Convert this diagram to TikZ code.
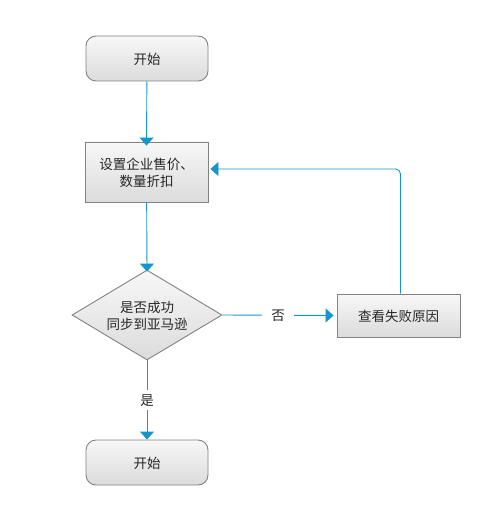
\documentclass[tikz,border=0pt]{standalone}
\usepackage{fontspec}
\setmainfont{Noto Sans CJK SC}
\usetikzlibrary{shapes.geometric,arrows.meta}
\definecolor{flowblue}{RGB}{20,150,205}
\definecolor{boxline}{RGB}{130,130,130}

\begin{document}
\begin{tikzpicture}[
            x = 1pt, y = -1pt,
            every node/.style={text depth=0pt, font=\fontsize{13.5}{17}\selectfont, align=center, text=black!85},
            box/.style={draw=boxline, line width=.9pt, top color=white!97!black, bottom color=white!86!black},
            terminal/.style={box, rounded corners=10pt, minimum width=122pt, minimum height=45pt},
            process/.style={box, minimum width=123pt, minimum height=60pt},
            decision/.style={box, diamond, aspect=1.667, minimum width=150pt, minimum height=90pt, inner sep=0pt},
            line/.style={draw=flowblue, line width=.9pt, -{Triangle[width=14pt,length=8pt]}},
            label/.style={fill=white, inner xsep=9pt, inner ysep=5pt},
            ]
        \useasboundingbox (0, 0) rectangle (497, 510);

        \node[terminal] (0) at (147, 58.5) {开始};
        \node[process, minimum height=60pt] (1) at (146.5, 172) {设置企业售价、\\数量折扣};
        \node[decision] (2) at (147, 315) {是否成功\\同步到亚马逊};
        \node[process, minimum height=43pt] (3) at (398.5, 315.5) {查看失败原因};
        \node[terminal] (4) at (147, 462.5) {开始};

        \draw[line] (0) -- ([yshift=-4pt]1.north);
        \draw[line] (1) -- ([yshift=-2pt]2.north);
        \draw[line] (2.east) -- node[label] {否} ([xshift=-3pt]3.west);
        \draw[line] (2.south) -- node[label] {是} (4.north);
        \draw[line, rounded corners=5pt] ([xshift=2pt]3.north) |- ([xshift=2pt, yshift=3pt]1.east);
    \end{tikzpicture}
\end{document}
